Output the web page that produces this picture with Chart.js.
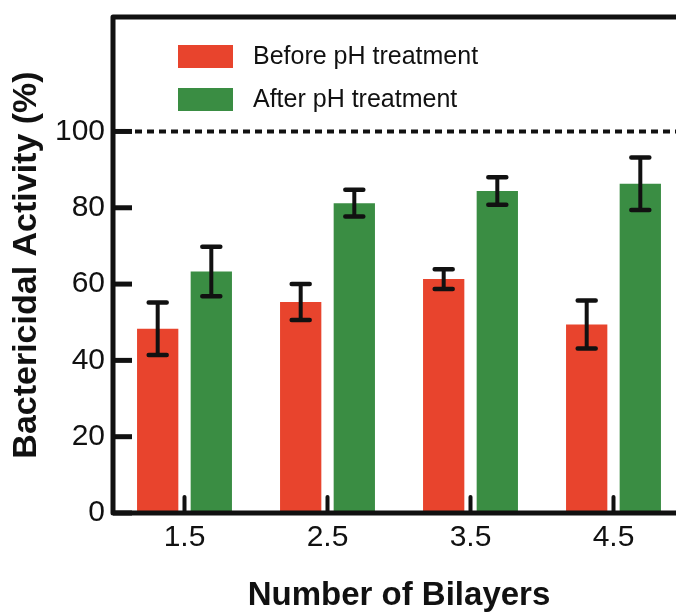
<!DOCTYPE html>
<html>
<head>
<meta charset="utf-8">
<script src="https://cdn.jsdelivr.net/npm/chart.js@4.4.1/dist/chart.umd.min.js"></script>
<style>
  html, body { margin: 0; padding: 0; background: #fff; overflow: hidden; }
  #wrap { width: 676px; height: 613px; overflow: hidden; }
  canvas { display: block; }
</style>
</head>
<body>
<div id="wrap"><canvas id="chart" width="685" height="613"></canvas></div>
<script>
// Bilayer counts on the x axis
const bilayers = ['1.5', '2.5', '3.5', '4.5'];

// Bactericidal activity (%) and error bars
const beforePH = [48.3, 55.3, 61.3, 49.4];
const beforeErr = [6.9, 4.7, 2.6, 6.3];
const afterPH = [63.3, 81.2, 84.4, 86.3];
const afterErr = [6.5, 3.5, 3.6, 6.9];

const yTicks = [0, 20, 40, 60, 80, 100];
const refLine = 100;

const RED = '#E8442D';
const GREEN = '#3A8D43';
const FONT = "'Liberation Sans', Arial, Helvetica, sans-serif";

// frame, reference line and inward tick marks
const framePlugin = {
    id: 'frame',
    afterDatasetsDraw(chart) {
        const { ctx, chartArea: a, scales } = chart;
        const y = scales.y, x = scales.x;
        ctx.save();

        // dotted line at 100
        ctx.strokeStyle = '#111';
        ctx.lineWidth = 4;
        ctx.setLineDash([7, 5]);
        ctx.beginPath();
        ctx.moveTo(a.left + 22, y.getPixelForValue(refLine));
        ctx.lineTo(a.right + 10, y.getPixelForValue(refLine));
        ctx.stroke();
        ctx.setLineDash([]);

        // inward y ticks
        ctx.lineWidth = 5;
        yTicks.forEach(v => {
            const py = y.getPixelForValue(v);
            ctx.beginPath();
            ctx.moveTo(a.left, py);
            ctx.lineTo(a.left + 19, py);
            ctx.stroke();
        });

        // inward x ticks at category centres
        ctx.lineWidth = 4;
        ctx.lineCap = 'round';
        bilayers.forEach((_, i) => {
            const px = x.getPixelForValue(i);
            ctx.beginPath();
            ctx.moveTo(px, a.bottom);
            ctx.lineTo(px, a.bottom - 16);
            ctx.stroke();
        });
        ctx.lineCap = 'butt';

        // frame: top, left, bottom
        ctx.lineWidth = 5;
        ctx.lineJoin = 'round';
        ctx.beginPath();
        ctx.moveTo(a.right + 10, a.top);
        ctx.lineTo(a.left, a.top);
        ctx.lineTo(a.left, a.bottom);
        ctx.lineTo(a.right + 10, a.bottom);
        ctx.stroke();

        ctx.restore();
    }
};

// error bars drawn on each bar
const errorBarPlugin = {
    id: 'errorBars',
    afterDatasetsDraw(chart) {
        const { ctx, scales } = chart;
        ctx.save();
        ctx.strokeStyle = '#111';
        chart.data.datasets.forEach((ds, di) => {
            const meta = chart.getDatasetMeta(di);
            meta.data.forEach((bar, i) => {
                const v = ds.data[i], e = ds.errors[i];
                const top = scales.y.getPixelForValue(v + e);
                const bot = scales.y.getPixelForValue(v - e);
                ctx.lineWidth = 4;
                ctx.lineCap = 'butt';
                ctx.beginPath();
                ctx.moveTo(bar.x, top);
                ctx.lineTo(bar.x, bot);
                ctx.stroke();
                ctx.lineWidth = 4.5;
                ctx.lineCap = 'round';
                ctx.beginPath();
                ctx.moveTo(bar.x - 9, top);
                ctx.lineTo(bar.x + 9, top);
                ctx.moveTo(bar.x - 9, bot);
                ctx.lineTo(bar.x + 9, bot);
                ctx.stroke();
            });
        });
        ctx.restore();
    }
};

// legend inside the frame
const legendPlugin = {
    id: 'innerLegend',
    afterDraw(chart) {
        const { ctx, chartArea: a } = chart;
        ctx.save();
        ctx.font = '25px ' + FONT;
        ctx.textBaseline = 'middle';
        chart.data.datasets.forEach((ds, i) => {
            const bx = a.left + 65;
            const by = a.top + 28 + i * 43;
            ctx.fillStyle = ds.backgroundColor;
            ctx.fillRect(bx, by, 55, 23);
            ctx.fillStyle = '#111';
            ctx.fillText(ds.label, bx + 75, by + 12);
        });
        ctx.restore();
    }
};

new Chart(document.getElementById('chart'), {
    type: 'bar',
    data: {
        labels: bilayers,
        datasets: [
            { label: 'Before pH treatment', data: beforePH, errors: beforeErr, backgroundColor: RED },
            { label: 'After pH treatment', data: afterPH, errors: afterErr, backgroundColor: GREEN }
        ]
    },
    options: {
        responsive: false,
        animation: false,
        categoryPercentage: 0.75,
        barPercentage: 0.77,
        layout: { padding: { top: 17, left: 0, right: 0, bottom: 0 } },
        plugins: {
            legend: { display: false },
            tooltip: { enabled: false }
        },
        scales: {
            x: {
                grid: { display: false, drawTicks: false },
                border: { display: false },
                ticks: { color: '#111', padding: 7, font: { family: FONT, size: 30 } },
                title: {
                    display: true,
                    text: 'Number of Bilayers',
                    color: '#111',
                    font: { family: FONT, size: 33, weight: 'bold', lineHeight: 1 },
                    padding: { top: 0, bottom: 1 }
                },
                afterFit(scale) {
                    scale.height = 100;
                    scale.paddingLeft = 0;
                    scale.paddingRight = 0;
                }
            },
            y: {
                min: 0,
                max: 130,
                grid: { display: false, drawTicks: false },
                border: { display: false },
                ticks: { stepSize: 20, color: '#111', padding: 8, font: { family: FONT, size: 30 } },
                title: {
                    display: true,
                    text: 'Bactericidal Activity (%)',
                    color: '#111',
                    font: { family: FONT, size: 34, weight: 'bold' },
                    padding: { top: 6, bottom: 0 }
                },
                afterTickToLabelConversion(scale) {
                    scale.ticks = scale.ticks.filter(t => yTicks.includes(t.value));
                },
                afterFit(scale) {
                    scale.width = 113;
                    scale.paddingTop = 0;
                    scale.paddingBottom = 0;
                }
            }
        }
    },
    plugins: [framePlugin, errorBarPlugin, legendPlugin]
});
</script>
</body>
</html>
